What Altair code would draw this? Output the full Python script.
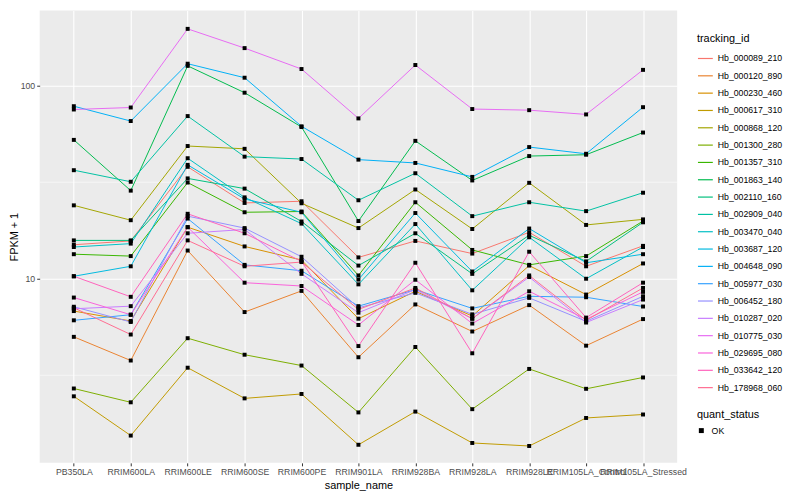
import altair as alt
import pandas as pd

samples = ["PB350LA", "RRIM600LA", "RRIM600LE", "RRIM600SE", "RRIM600PE",
           "RRIM901LA", "RRIM928BA", "RRIM928LA", "RRIM928LE",
           "RRIM105LA_Control", "RRIM105LA_Stressed"]

tracking_ids = ["Hb_000089_210", "Hb_000120_890", "Hb_000230_460", "Hb_000617_310",
                "Hb_000868_120", "Hb_001300_280", "Hb_001357_310", "Hb_001863_140",
                "Hb_002110_160", "Hb_002909_040", "Hb_003470_040", "Hb_003687_120",
                "Hb_004648_090", "Hb_005977_030", "Hb_006452_180", "Hb_010287_020",
                "Hb_010775_030", "Hb_029695_080", "Hb_033642_120", "Hb_178968_060"]

colors = ["#F8766D", "#EA8331", "#D89000", "#C09B00", "#A3A500", "#7CAE00", "#39B600",
          "#00BB4E", "#00BF7D", "#00C1A3", "#00BFC4", "#00BAE0", "#00B0F6", "#35A2FF",
          "#9590FF", "#C77CFF", "#E76BF3", "#FA62DB", "#FF62BC", "#FF6C91"]

Hb_000089_210 = [15.0, 15.7, 38.0, 24.7, 25.2, 12.9, 15.7, 13.5, 17.4, 11.6, 14.8]
Hb_000120_890 = [5.00, 3.77, 14.0, 6.72, 8.65, 3.92, 7.36, 5.33, 7.30, 4.50, 6.18]
Hb_000230_460 = [6.80, 6.04, 18.5, 14.7, 12.5, 6.21, 8.61, 6.41, 11.7, 8.28, 12.0]
Hb_000617_310 = [2.46, 1.54, 3.46, 2.40, 2.53, 1.38, 2.05, 1.41, 1.36, 1.90, 1.98]
Hb_000868_120 = [24.0, 20.1, 48.7, 47.1, 24.6, 18.3, 29.0, 18.1, 31.4, 19.0, 20.3]
Hb_001300_280 = [2.70, 2.29, 4.92, 4.04, 3.55, 2.03, 4.43, 2.11, 3.41, 2.69, 3.08]
Hb_001357_310 = [13.4, 13.1, 31.5, 22.1, 22.3, 10.4, 24.9, 14.1, 11.8, 13.1, 19.9]
Hb_001863_140 = [52.4, 28.6, 126.7, 92.0, 61.1, 19.9, 51.8, 32.3, 43.2, 43.9, 57.2]
Hb_002110_160 = [15.8, 15.8, 33.1, 29.3, 19.8, 11.7, 17.2, 10.6, 16.8, 12.3, 19.6]
Hb_002909_040 = [36.5, 31.8, 69.6, 42.9, 41.7, 25.5, 35.2, 21.1, 24.9, 22.4, 27.9]
Hb_003470_040 = [14.6, 15.2, 42.1, 26.4, 19.3, 9.35, 19.2, 8.71, 16.4, 10.0, 14.6]
Hb_003687_120 = [10.3, 11.6, 38.9, 25.9, 22.1, 9.9, 21.9, 10.9, 18.2, 12.1, 13.4]
Hb_004648_090 = [78.3, 65.6, 130.0, 110.0, 61.6, 41.4, 39.8, 33.7, 48.1, 44.4, 77.4]
Hb_005977_030 = [6.09, 6.51, 20.5, 11.8, 11.0, 7.21, 8.78, 7.02, 8.11, 8.02, 7.18]
Hb_006452_180 = [7.16, 5.97, 21.1, 18.3, 13.0, 7.07, 8.45, 6.54, 7.96, 6.02, 8.11]
Hb_010287_020 = [6.99, 7.21, 17.2, 18.0, 10.6, 6.67, 8.78, 6.21, 10.2, 5.93, 7.80]
Hb_010775_030 = [75.3, 77.1, 197.0, 156.6, 122.0, 67.7, 128.0, 75.7, 74.7, 71.0, 120.8]
Hb_029695_080 = [7.99, 6.51, 18.5, 9.54, 9.17, 5.76, 9.88, 5.86, 8.61, 6.16, 8.55]
Hb_033642_120 = [10.3, 8.06, 21.7, 17.2, 12.3, 4.48, 12.1, 4.11, 13.8, 6.29, 9.54]
Hb_178968_060 = [7.07, 5.14, 15.8, 11.6, 12.2, 6.93, 8.96, 6.21, 10.4, 6.09, 8.96]

series = [Hb_000089_210, Hb_000120_890, Hb_000230_460, Hb_000617_310, Hb_000868_120,
          Hb_001300_280, Hb_001357_310, Hb_001863_140, Hb_002110_160, Hb_002909_040,
          Hb_003470_040, Hb_003687_120, Hb_004648_090, Hb_005977_030, Hb_006452_180,
          Hb_010287_020, Hb_010775_030, Hb_029695_080, Hb_033642_120, Hb_178968_060]

y_major = [10, 100]
y_minor = [3.1623, 31.623]

rows = []
for tid, vals in zip(tracking_ids, series):
    for s, v in zip(samples, vals):
        rows.append({"sample_name": s, "tracking_id": tid, "fpkm": v, "quant_status": "OK"})
df = pd.DataFrame(rows)
minor_df = pd.DataFrame({"fpkm": y_minor})

FONT = "Liberation Sans"
yscale = alt.Scale(type="log", domain=[1.112, 245.3], nice=False, zero=False)
xscale = alt.Scale(type="point", padding=0.6, domain=samples)

yaxis = alt.Axis(values=y_major, format="d", title="FPKM + 1", grid=True,
                 gridColor="white", gridWidth=1.1, titlePadding=1, labelPadding=2)
xaxis = alt.Axis(title="sample_name", labelAngle=0, labelOverlap=False, labelFlush=False,
                 grid=True, gridColor="white", gridWidth=1.1, labelPadding=2, titlePadding=3)

minor = alt.Chart(minor_df).mark_rule(color="white", strokeWidth=0.55).encode(
    y=alt.Y("fpkm:Q", scale=yscale, axis=yaxis)
)

lines = alt.Chart(df).mark_line(strokeWidth=1).encode(
    x=alt.X("sample_name:N", scale=xscale, sort=samples, axis=xaxis),
    y=alt.Y("fpkm:Q", scale=yscale, axis=yaxis),
    color=alt.Color("tracking_id:N",
                    scale=alt.Scale(domain=tracking_ids, range=colors),
                    legend=alt.Legend(title="tracking_id", orient="none", legendX=664, legendY=23,
                                      symbolType="stroke", symbolSize=225, symbolStrokeWidth=1.2,
                                      rowPadding=3.5, titlePadding=6, labelOffset=4)),
    detail="tracking_id:N",
)

points = alt.Chart(df).mark_point(shape="square", filled=True, size=16, opacity=1, color="black").encode(
    x=alt.X("sample_name:N", scale=xscale, sort=samples, axis=xaxis),
    y=alt.Y("fpkm:Q", scale=yscale, axis=yaxis),
    shape=alt.Shape("quant_status:N", scale=alt.Scale(range=["square"]),
                    legend=alt.Legend(title="quant_status", orient="none", legendX=664, legendY=403,
                                      symbolSize=25, symbolFillColor="black", symbolStrokeColor="black",
                                      titlePadding=6, labelOffset=6)),
)

chart = alt.layer(minor, lines, points).properties(
    width=644, height=457,
    padding={"left": 32, "top": 0, "right": 116, "bottom": 35},
    autosize=alt.AutoSizeParams(type="none"),
).configure_view(
    fill="#EBEBEB", stroke=None
).configure_axis(
    domain=False, tickColor="#333333", tickSize=3, tickWidth=1,
    labelColor="#4D4D4D", labelFontSize=8.8, labelFont=FONT,
    titleFont=FONT, titleFontSize=11, titleFontWeight="normal", titleColor="black",
).configure_legend(
    titleFont=FONT, titleFontSize=11, titleFontWeight="normal", titleColor="black",
    labelFont=FONT, labelFontSize=8.8, labelColor="black", labelLimit=200,
)

chart.save("out.html", embed_options={"renderer": "svg", "actions": False})
